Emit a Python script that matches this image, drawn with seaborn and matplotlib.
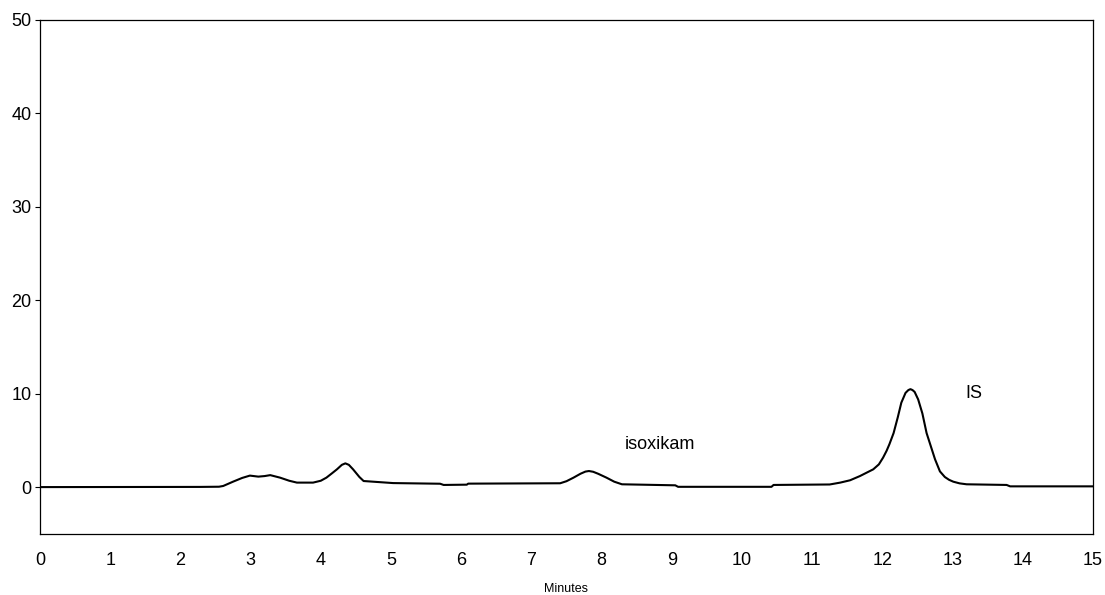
import matplotlib
matplotlib.use("Agg")
import matplotlib.pyplot as plt
import seaborn as sns
import pandas as pd

# Chromatogram trace: retention time (min) and detector response
time_min = [
    0.00, 2.28, 2.55, 2.61, 2.75, 2.88, 2.99, 3.11, 3.20, 3.28, 3.42, 3.55,
    3.66, 3.89, 4.00, 4.08, 4.16, 4.23, 4.30, 4.35, 4.40, 4.46, 4.55, 4.61,
    4.80, 5.03, 5.70, 5.75, 6.08, 6.10, 7.41, 7.50, 7.60, 7.70, 7.77, 7.82,
    7.88, 7.95, 8.07, 8.18, 8.29, 9.05, 9.09, 10.42, 10.45, 11.25, 11.40,
    11.54, 11.68, 11.87, 11.95, 12.01, 12.06, 12.10, 12.16, 12.22, 12.27,
    12.33, 12.37, 12.40, 12.43, 12.46, 12.51, 12.57, 12.63, 12.69, 12.75,
    12.82, 12.89, 12.95, 13.01, 13.10, 13.20, 13.77, 13.82, 15.00,
]
response = [
    0.02, 0.04, 0.06, 0.14, 0.60, 1.00, 1.25, 1.14, 1.20, 1.30, 1.03, 0.70,
    0.50, 0.50, 0.70, 1.03, 1.50, 1.92, 2.40, 2.56, 2.40, 1.92, 1.10, 0.67,
    0.57, 0.45, 0.38, 0.25, 0.28, 0.39, 0.43, 0.65, 1.03, 1.45, 1.68, 1.74,
    1.66, 1.45, 1.03, 0.60, 0.32, 0.21, 0.05, 0.05, 0.25, 0.30, 0.50,
    0.75, 1.20, 1.92, 2.45, 3.17, 3.90, 4.60, 5.80, 7.50, 9.05,
    10.10, 10.40, 10.50, 10.40, 10.20, 9.40, 7.90, 5.80, 4.40, 3.00,
    1.70, 1.10, 0.80, 0.60, 0.42, 0.32, 0.25, 0.10, 0.10,
]

peak_labels = ["isoxikam", "IS"]
label_x = [8.33, 13.18]
label_y = [4.57, 10.07]

x_ticks = list(range(0, 16))
y_ticks = [0, 10, 20, 30, 40, 50]

sns.set_theme(style="white")
plt.rcParams["font.family"] = ["Liberation Sans", "DejaVu Sans"]

df = pd.DataFrame({"Minutes": time_min, "Response": response})

fig = plt.figure(figsize=(11.05, 5.95), dpi=100)
ax = fig.add_axes([0.0362, 0.1025, 0.9529, 0.8639])

sns.lineplot(data=df, x="Minutes", y="Response", ax=ax, color="black",
             linewidth=1.5, sort=False)

for txt, tx, ty in zip(peak_labels, label_x, label_y):
    ax.text(tx, ty, txt, fontsize=13, ha="left", va="center", color="black")

ax.set_xlim(0, 15)
ax.set_ylim(-5, 50)
ax.set_xticks(x_ticks)
ax.set_xticklabels([str(v) for v in x_ticks])
ax.set_yticks(y_ticks)
ax.set_yticklabels([str(v) for v in y_ticks])

ax.tick_params(axis="x", length=0, pad=13, labelsize=13, colors="black")
ax.tick_params(axis="y", length=3.6, width=0.8, pad=2.5, direction="out",
               left=True, labelsize=13, colors="black")

ax.set_xlabel("Minutes", fontsize=9, labelpad=10, color="black")
ax.set_ylabel("")

for sp in ax.spines.values():
    sp.set_visible(True)
    sp.set_color("black")
    sp.set_linewidth(0.9)

ax.grid(False)
fig.savefig("out.png", dpi=100, facecolor="white")
